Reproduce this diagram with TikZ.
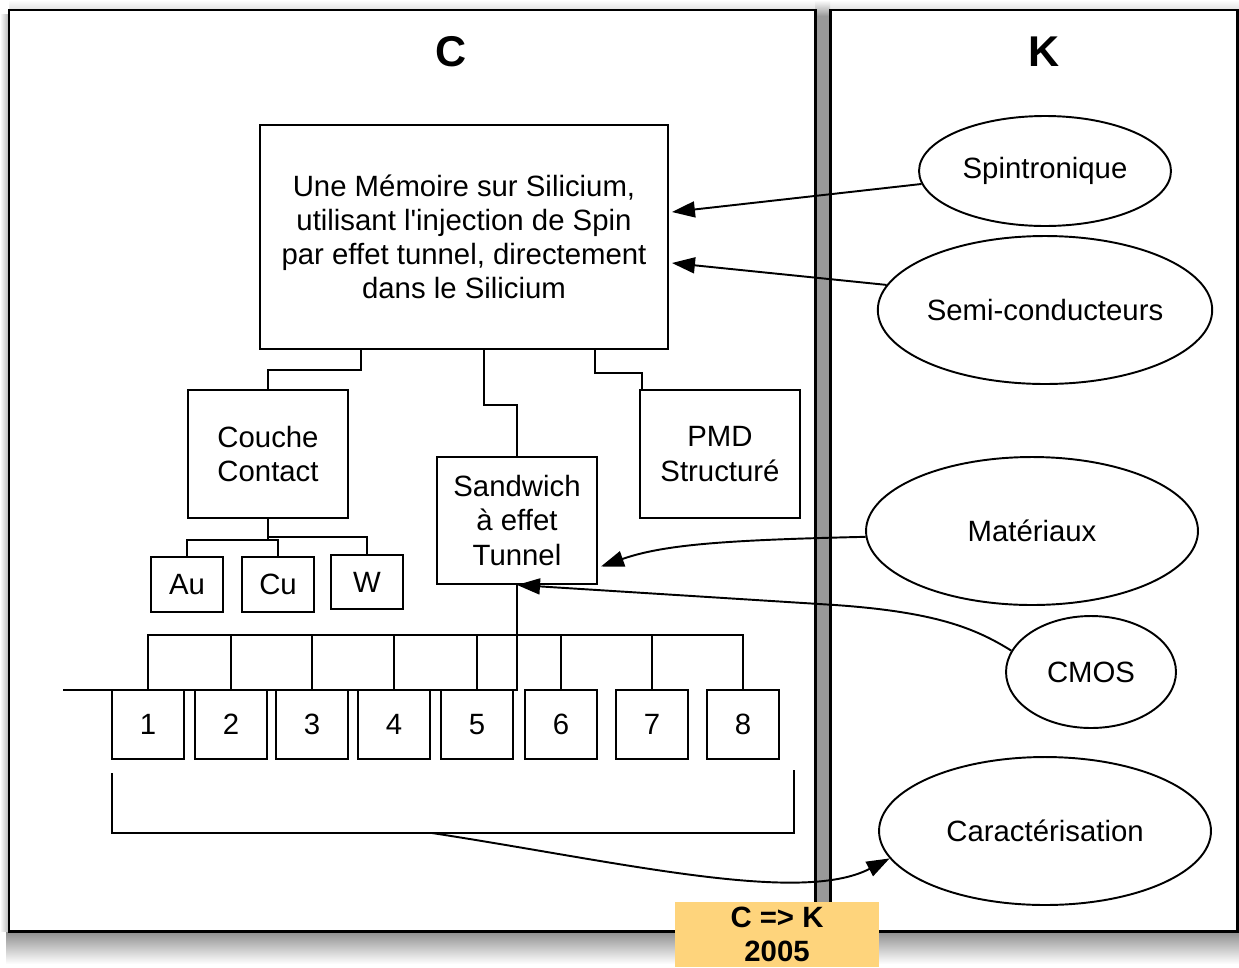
\documentclass[tikz,border=0pt]{standalone}
\usepackage{fontspec}
\setmainfont{Liberation Sans}
\usepackage{tikz}
\usetikzlibrary{arrows.meta, positioning, calc, shapes.geometric}
\definecolor{mygap}{RGB}{153,153,153}
\definecolor{mynote}{RGB}{254,212,124}
\definecolor{mydark}{RGB}{0,0,0}
\tikzset{
  box/.style={rectangle, draw=mydark, fill=white, line width=1.1pt,
    align=center, inner sep=0pt, font=\fontsize{16.7}{19.4}\selectfont},
  midbox/.style={box, minimum width=3.2cm, minimum height=2.56cm},
  leaf/.style={box, minimum width=1.44cm, minimum height=1.1cm},
  numbox/.style={box, minimum width=1.44cm, minimum height=1.38cm},
  topic/.style={ellipse, draw=mydark, fill=white, line width=1.1pt,
    inner sep=0pt, font=\fontsize{16.7}{19.4}\selectfont,
    minimum width=6.64cm, minimum height=2.96cm},
  panel/.style={draw=mydark, fill=white, line width=1.7pt},
  title/.style={font=\fontsize{24.5}{28}\selectfont\bfseries},
  note/.style={rectangle, fill=mynote, inner sep=0pt, align=center,
    minimum width=4.08cm, minimum height=1.3cm,
    font=\fontsize{16.7}{19.4}\selectfont\bfseries},
  arrow/.style={-{Triangle[length=4.6mm, width=3.2mm]}, line width=1.1pt, color=mydark},
  line/.style={line width=1.1pt, color=mydark}
}

\begin{document}
\begin{tikzpicture}[x=0.02cm, y=-0.02cm]
  \useasboundingbox (0,0) rectangle (1239,967);

  % panels and shadow
  \shade[top color=black!45, bottom color=white] (6,931) rectangle (1239,964);
  \shade[left color=white, right color=black!30] (0,14) rectangle (9,931);
  \shade[top color=white, bottom color=black!12] (9,0) rectangle (1239,10);
  \fill[mygap] (815,16) rectangle (830,931);
  \shade[top color=white, bottom color=mygap] (815,0) rectangle (830,16);
  \draw[panel] (9,10) rectangle (815,931);
  \draw[panel] (830,10) rectangle (1237,931);
  \node[title] (ttlc) at (451,52) {C};
  \node[title] (ttlk) at (1044,52) {K};

  \node[box, minimum width=8.16cm, minimum height=4.48cm] (mainbox) at (464,237)
    {Une Mémoire sur Silicium,\\utilisant l\textquotesingle injection de Spin\\par effet tunnel, directement\\dans le Silicium};
  \node[midbox] (couche) at (268,454) {Couche\\Contact};
  \node[midbox, minimum height=2.54cm] (sandwich) at (517,520.5) {Sandwich\\à effet\\Tunnel};
  \node[midbox] (pmd) at (720,454) {PMD\\Structuré};
  \node[leaf] (au) at (187,584.5) {Au};
  \node[leaf] (cu) at (278,584.5) {Cu};
  \node[leaf, minimum height=1.08cm] (w) at (367,582) {W};
  \foreach \i/\x in {1/148, 2/231, 3/312, 4/394, 5/477, 6/561, 7/652, 8/743}
    \node[numbox] (n\i) at (\x,724.5) {\i};

  \draw[line] ($(mainbox.south west)+(102,0)$) -- ++(0,20) -| (couche.north);
  \draw[line] ($(mainbox.south west)+(225,0)$) -- ++(0,55) -| (sandwich.north);
  \draw[line] ($(mainbox.south west)+(336,0)$) -- ++(0,23) -| ($(pmd.north west)+(3,0)$);
  \draw[line] (couche.south) -- ++(0,21) -| (au.north);
  \draw[line] (couche.south) ++(0,21) -| (cu.north);
  \draw[line] (couche.south) ++(0,18) -| (w.north);

  \coordinate (tail) at (63,690);
  \draw[line] (sandwich.south) |- (tail);
  \draw[line] (n1.north) -- ++(0,-54) -| (n8.north);
  \foreach \i in {2,...,7}
    \draw[line] (n\i.north) -- ++(0,-54);

  \coordinate (brl) at (112,773);
  \coordinate (brr) at (794,770);
  \coordinate (brmid) at (432,833);
  \draw[line] (brl) |- (brmid) -| (brr);

  \node[topic, minimum width=5.04cm, minimum height=2.2cm] (spin) at (1045,171) {Spintronique};
  \node[topic] (semi) at (1045,310) {Semi-conducteurs};
  \node[topic] (mat) at (1032,531) {Matériaux};
  \node[topic, minimum width=3.4cm, minimum height=2.24cm] (cmos) at (1091,672) {CMOS};
  \node[topic] (carac) at (1045,831) {Caractérisation};

  \draw[arrow] (spin.186) -- ($(mainbox.east)+(3,-25)$);
  \draw[arrow] (semi.171) -- ($(mainbox.east)+(3,26)$);
  \draw[arrow] (mat.182) .. controls (730,540) and (665,544) .. ($(sandwich.east)+(3,46)$);
  \draw[arrow] (cmos.165) .. controls (975,628) and (935,612) .. (835,605) -- (sandwich.south);
  \draw[arrow] (brmid) .. controls (620,862) and (800,905) .. (carac.190);

  \node[note] (stamp) at (777,934.5) {C => K\\2005};
\end{tikzpicture}
\end{document}
